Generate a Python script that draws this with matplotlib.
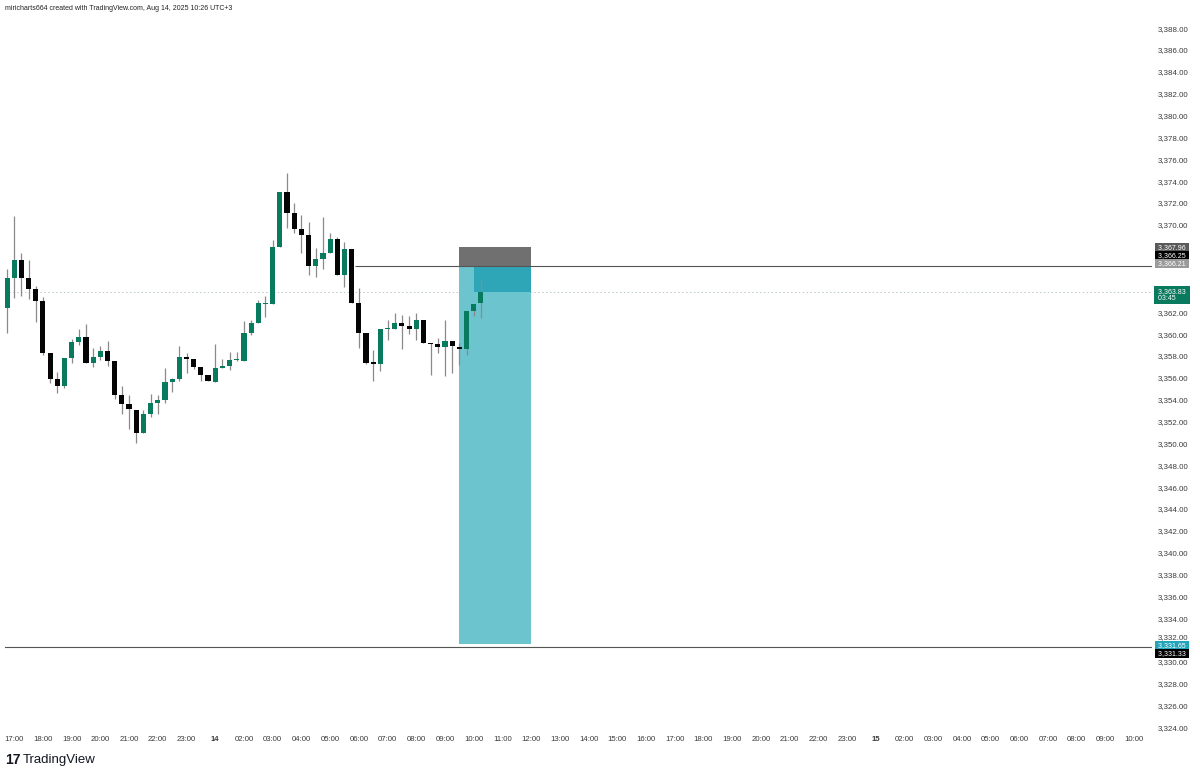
import matplotlib
matplotlib.use("Agg")
import matplotlib.pyplot as plt
import matplotlib.transforms as mtransforms
from matplotlib.patches import Rectangle

plt.rcParams['font.family'] = ['Liberation Sans', 'DejaVu Sans']

# ---------------- data (15-minute candles, first = 16:45) ----------------
opens = [3362.42, 3365.11, 3366.79, 3365.11, 3364.10, 3363.06, 3358.31, 3355.87, 3355.26, 3357.79,
         3359.26, 3359.71, 3357.36, 3357.94, 3358.49, 3357.58, 3354.44, 3353.61, 3353.06, 3350.99,
         3352.67, 3353.73, 3353.98, 3355.62, 3355.87, 3357.88, 3357.70, 3357.03, 3356.24, 3355.65,
         3356.88, 3357.09, 3357.64, 3357.55, 3360.14, 3361.00, 3362.76, 3362.76, 3367.95, 3372.98,
         3371.11, 3369.60, 3369.07, 3366.24, 3366.85, 3367.45, 3368.71, 3365.38, 3367.77, 3362.82,
         3360.08, 3357.43, 3357.27, 3360.45, 3360.45, 3361.05, 3360.75, 3360.45, 3361.30, 3359.17,
         3359.10, 3358.86, 3359.40, 3358.86, 3358.65, 3362.12, 3362.82]
highs = [3365.94, 3370.84, 3367.45, 3366.79, 3364.41, 3363.43, 3358.31, 3356.57, 3357.79, 3359.53,
         3360.45, 3360.90, 3358.71, 3358.92, 3359.38, 3357.58, 3355.26, 3354.44, 3353.06, 3353.06,
         3354.50, 3354.44, 3356.88, 3355.95, 3358.92, 3358.25, 3357.70, 3357.03, 3356.24, 3359.10,
         3357.70, 3358.40, 3358.40, 3361.20, 3361.30, 3363.13, 3363.49, 3368.60, 3372.98, 3374.77,
         3372.03, 3370.90, 3370.30, 3367.86, 3370.70, 3369.29, 3368.90, 3368.47, 3367.77, 3364.20,
         3360.08, 3358.55, 3360.45, 3361.30, 3361.96, 3361.76, 3361.66, 3361.90, 3361.30, 3359.17,
         3359.62, 3361.30, 3359.40, 3359.17, 3362.12, 3362.73, 3364.96]
lows = [3360.14, 3363.28, 3363.52, 3363.22, 3361.14, 3358.10, 3355.50, 3354.59, 3355.05, 3357.34,
        3359.00, 3357.36, 3357.03, 3357.64, 3357.09, 3354.04, 3352.70, 3351.30, 3350.00, 3350.99,
        3352.45, 3352.67, 3353.73, 3354.74, 3355.75, 3356.48, 3356.80, 3355.75, 3355.75, 3355.65,
        3356.88, 3356.72, 3357.55, 3357.55, 3359.92, 3361.00, 3361.60, 3362.76, 3367.95, 3369.69,
        3369.29, 3367.40, 3365.41, 3365.26, 3365.94, 3367.45, 3365.38, 3364.35, 3362.82, 3358.71,
        3357.27, 3355.75, 3356.66, 3359.47, 3360.45, 3358.62, 3360.00, 3359.47, 3359.17, 3356.27,
        3358.31, 3356.17, 3356.48, 3357.18, 3358.10, 3361.66, 3361.45]
closes = [3365.11, 3366.79, 3365.11, 3364.10, 3363.06, 3358.31, 3355.87, 3355.26, 3357.79, 3359.26,
          3359.71, 3357.36, 3357.88, 3358.49, 3357.58, 3354.44, 3353.61, 3353.13, 3350.99, 3352.67,
          3353.73, 3353.98, 3355.62, 3355.87, 3357.88, 3357.70, 3357.03, 3356.24, 3355.75, 3356.88,
          3357.09, 3357.64, 3357.70, 3360.14, 3361.00, 3362.82, 3362.88, 3367.95, 3372.98, 3371.11,
          3369.60, 3369.07, 3366.24, 3366.85, 3367.40, 3368.71, 3365.38, 3367.77, 3362.82, 3360.08,
          3357.39, 3357.27, 3360.45, 3360.54, 3361.05, 3360.75, 3360.45, 3361.30, 3359.17, 3359.10,
          3358.86, 3359.40, 3358.92, 3358.65, 3362.12, 3362.73, 3363.83]

time_labels = ["17:00", "18:00", "19:00", "20:00", "21:00", "22:00", "23:00", "14",
               "02:00", "03:00", "04:00", "05:00", "06:00", "07:00", "08:00", "09:00", "10:00",
               "11:00", "12:00", "13:00", "14:00", "15:00", "16:00", "17:00", "18:00", "19:00",
               "20:00", "21:00", "22:00", "23:00", "15", "02:00", "03:00", "04:00", "05:00",
               "06:00", "07:00", "08:00", "09:00", "10:00"]
first_label_bar = 1
bars_per_hour = 4

price_ticks = list(range(3324, 3390, 2))
hidden_price_ticks = [3364, 3366, 3368]   # covered by price labels in the original
shifted_price_tick = 3332                 # partly hidden behind the target label

# short position tool
pos_start_bar = 63
pos_end_bar = 73
pos_live_bar = 65
stop_price = 3367.96
entry_price = 3366.25
entry_label_price = 3366.21
target_price = 3331.65
target_line_price = 3331.33
entry_line_start_bar = 48.5
last_price = 3363.83
countdown = "03:45"

# ---------------- styles ----------------
GREEN = '#087a5e'
BLACK = '#050505'
WICK = '#8a8a8a'
AXTXT = '#3a3a3a'

fig = plt.figure(figsize=(12, 7.77), dpi=100)
ax = fig.add_axes([5 / 1200, 46 / 777, 1147 / 1200, 717 / 777])
ax.set_xlim(-0.28, 159.47)
ax.set_ylim(3323.69, 3389.29)
for s in ax.spines.values():
    s.set_visible(False)

# position tool
ax.add_patch(Rectangle((pos_start_bar, entry_price), pos_end_bar - pos_start_bar,
                       stop_price - entry_price, facecolor='#707070', edgecolor='none',
                       zorder=1))
ax.add_patch(Rectangle((pos_start_bar, target_price), pos_end_bar - pos_start_bar,
                       entry_price - target_price, facecolor='#6cc4cf', edgecolor='none',
                       zorder=1))
ax.add_patch(Rectangle((pos_live_bar, last_price), pos_end_bar - pos_live_bar,
                       entry_price - last_price, facecolor='#2ea6b8', edgecolor='none',
                       zorder=1.1))

# lines
ax.axhline(last_price, color='#b9c9c4', lw=0.7, ls=(0, (1.5, 2.5)), zorder=0.5)
ax.hlines(entry_price, entry_line_start_bar, 159.47, color='#555555', lw=0.8, zorder=1.5)
ax.axhline(target_line_price, color='#555555', lw=0.8, zorder=1.5)

# candles
for i, (o, h, l, c) in enumerate(zip(opens, highs, lows, closes)):
    col = GREEN if c >= o else BLACK
    ax.vlines(i, l, h, color=WICK, lw=0.9, zorder=2)
    body = max(abs(c - o), 0.1)
    ax.bar(i, body, bottom=min(o, c), width=0.72, color=col, edgecolor='none', zorder=3)

# x ticks
xt = [first_label_bar + bars_per_hour * k for k in range(len(time_labels))]
ax.set_xticks(xt)
ax.set_xticklabels(time_labels)
ax.tick_params(axis='x', length=0, pad=3.5, labelsize=5.6, colors=AXTXT)
for t in ax.get_xticklabels():
    if ':' not in t.get_text():
        t.set_fontweight('bold')

# y ticks
ax.yaxis.tick_right()
ax.set_yticks(price_ticks)
ax.set_yticklabels(["" if p in hidden_price_ticks + [shifted_price_tick] else f"{p:,.2f}"
                    for p in price_ticks])
ax.tick_params(axis='y', length=0, pad=4.5, labelsize=5.7, colors=AXTXT)

trans = mtransforms.blended_transform_factory(ax.transAxes, ax.transData)
ax.annotate(f"{shifted_price_tick:,.2f}", xy=(1.0, shifted_price_tick), xycoords=trans,
            xytext=(4.5, 2.2), textcoords='offset points', ha='left', va='center',
            fontsize=5.7, color=AXTXT, annotation_clip=False, zorder=5)


# price labels on the axis
def plabel(price, text, fc, dy=0.0, tc='white'):
    ax.annotate(" " + text + " ", xy=(1.0, price), xycoords=trans,
                xytext=(3.0, dy), textcoords='offset points',
                ha='left', va='center', fontsize=5.0, color=tc, zorder=20,
                annotation_clip=False,
                bbox=dict(boxstyle='square,pad=0.15', fc=fc, ec='none'))


plabel(stop_price, f"{stop_price:,.2f}", '#5a5a5a', dy=0)
plabel(stop_price, f"{entry_price:,.2f}", '#000000', dy=-5.9)
plabel(stop_price, f"{entry_label_price:,.2f}", '#9a9a9a', dy=-11.8)
ax.annotate(f" {last_price:,.2f} \n {countdown}", xy=(1.0, last_price), xycoords=trans,
            xytext=(3.0, 3.0), textcoords='offset points', ha='left', va='top',
            fontsize=5.0, color='white', zorder=20, annotation_clip=False, linespacing=1.05,
            bbox=dict(boxstyle='square,pad=0.3', fc='#0a7a5e', ec='none'))
plabel(target_price, f"{target_price:,.2f}", '#22a4bb', dy=-1.0)
plabel(target_price, f"{target_line_price:,.2f}", '#000000', dy=-6.9)

# header and logo
fig.text(5 / 1200, 1 - 8 / 777, "miricharts664 created with TradingView.com, Aug 14, 2025 10:26 UTC+3",
         fontsize=5.0, color='#222222', va='center', ha='left')
fig.text(5 / 1200, 1 - 760 / 777, "17", fontsize=10, fontweight='heavy', color='#131722',
         va='center', ha='left')
fig.text(23 / 1200, 1 - 760 / 777, "TradingView", fontsize=9.5, color='#131722',
         va='center', ha='left')

fig.savefig("out.png", dpi=100, facecolor='white')
